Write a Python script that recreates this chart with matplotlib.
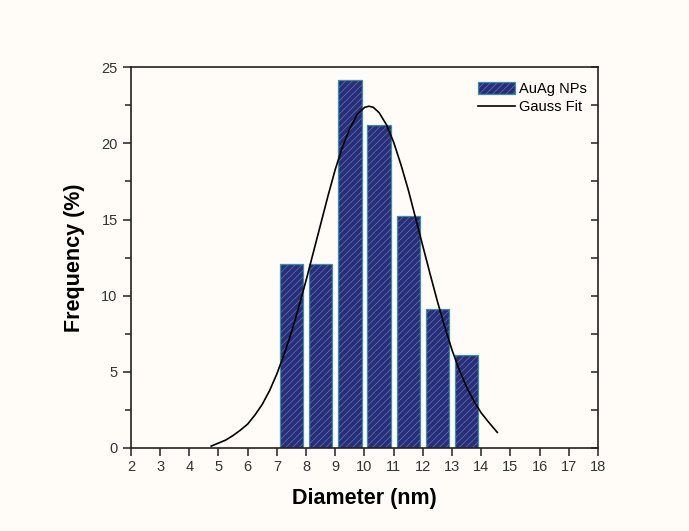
import matplotlib
matplotlib.use('Agg')
import matplotlib.pyplot as plt
from matplotlib.ticker import MultipleLocator

plt.rcParams['font.family'] = ['Liberation Sans', 'DejaVu Sans']
plt.rcParams['hatch.color'] = '#36328a'
plt.rcParams['hatch.linewidth'] = 0.5

# histogram of particle diameters (bin centres in nm, frequency in %)
diameters = [7.5, 8.5, 9.5, 10.5, 11.5, 12.5, 13.5]
frequency = [12.1, 12.1, 24.2, 21.2, 15.2, 9.1, 6.1]

# Gauss fit curve
fit_x = [4.75, 5.0, 5.25, 5.5, 5.75, 6.0, 6.25, 6.5, 6.75, 7.0, 7.25, 7.5, 7.75,
         8.0, 8.25, 8.5, 8.75, 9.0, 9.25, 9.5, 9.75, 10.0, 10.15, 10.3, 10.5, 10.75,
         11.0, 11.25, 11.5, 11.75, 12.0, 12.25, 12.5, 12.75, 13.0, 13.25, 13.5,
         13.75, 14.0, 14.25, 14.55]
fit_y = [0.1, 0.3, 0.5, 0.8, 1.15, 1.55, 2.15, 2.85, 3.75, 4.85, 6.15, 7.6, 9.25,
         11.0, 12.85, 14.7, 16.55, 18.3, 19.8, 21.0, 21.9, 22.37, 22.45, 22.38, 22.03, 21.24,
         20.08, 18.6, 16.95, 15.1, 13.24, 11.4, 9.6, 7.95, 6.41, 5.1, 3.97,
         3.05, 2.28, 1.68, 1.0]

bg = '#fffcf8'
fig = plt.figure(figsize=(6.89, 5.31), dpi=100, facecolor=bg)
ax = fig.add_axes([0.190, 0.157, 0.678, 0.716], facecolor=bg)

bars = ax.bar(diameters, frequency, width=0.8, color='#2e2a7e', edgecolor='#3f8f9c',
              linewidth=0.9, hatch='/////', label='AuAg NPs', zorder=2)
line, = ax.plot(fit_x, fit_y, color='black', lw=1.2, label='Gauss Fit', zorder=3,
                solid_joinstyle='round')

ax.set_xlim(2, 18)
ax.set_ylim(0, 25)
ax.xaxis.set_major_locator(MultipleLocator(1))
ax.yaxis.set_major_locator(MultipleLocator(5))
ax.yaxis.set_minor_locator(MultipleLocator(2.5))

for s in ax.spines.values():
    s.set_linewidth(1.2)
    s.set_color('#222222')

ax.tick_params(axis='both', which='major', direction='out', length=6, width=1.1,
               labelsize=10.5, colors='#222222', labelcolor='#333333')
ax.tick_params(axis='y', which='minor', direction='out', length=4, width=1.1, colors='#222222')
ax.tick_params(axis='x', which='major', pad=3)

# right axis with inward ticks, no labels
ax2 = ax.twinx()
ax2.set_ylim(0, 25)
ax2.yaxis.set_major_locator(MultipleLocator(5))
ax2.yaxis.set_minor_locator(MultipleLocator(2.5))
ax2.tick_params(axis='y', which='both', direction='in', length=5, width=1.1,
                labelright=False, colors='#222222')
for s in ax2.spines.values():
    s.set_visible(False)

ax.set_xlabel('Diameter (nm)', fontsize=15.5, fontweight='bold', labelpad=10)
ax.set_ylabel('Frequency (%)', fontsize=15.5, fontweight='bold', labelpad=12)

ax.legend(handles=[bars, line], loc='upper right', bbox_to_anchor=(0.995, 0.985),
          frameon=False, fontsize=10.5, handlelength=2.5, handleheight=0.9,
          handletextpad=0.3, labelspacing=0.3, borderaxespad=0.2)

fig.savefig('out.png', dpi=100, facecolor=bg)
